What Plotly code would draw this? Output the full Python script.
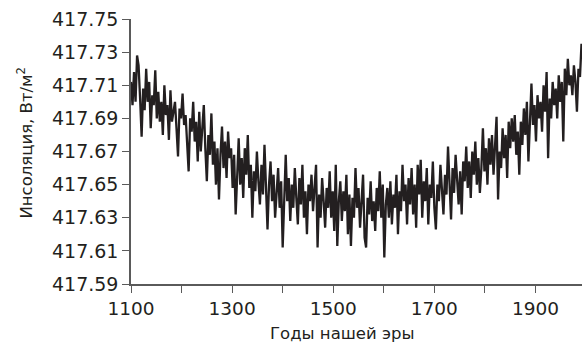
import plotly.graph_objects as go

years = list(range(1100, 1992, 3))

insolation = [
    417.712, 417.698, 417.718, 417.700, 417.728, 417.722, 417.702, 417.679, 417.708, 417.695,
    417.720, 417.700, 417.712, 417.684, 417.704, 417.698, 417.719, 417.690, 417.706, 417.688,
    417.700, 417.680, 417.710, 417.692, 417.698, 417.677, 417.707, 417.688, 417.694, 417.700,
    417.684, 417.667, 417.696, 417.690, 417.705, 417.686, 417.692, 417.674, 417.658, 417.690,
    417.682, 417.700, 417.676, 417.688, 417.664, 417.694, 417.670, 417.684, 417.698, 417.672,
    417.652, 417.680, 417.668, 417.693, 417.662, 417.676, 417.650, 417.672, 417.641, 417.668,
    417.685, 417.660, 417.676, 417.654, 417.682, 417.666, 417.672, 417.648, 417.668, 417.632,
    417.660, 417.678, 417.650, 417.666, 417.642, 417.672, 417.656, 417.680, 417.648, 417.662,
    417.630, 417.658, 417.646, 417.670, 417.652, 417.638, 417.662, 417.644, 417.674, 417.640,
    417.623, 417.650, 417.664, 417.640, 417.656, 417.630, 417.648, 417.660, 417.636, 417.652,
    417.612, 417.646, 417.668, 417.640, 417.654, 417.628, 417.650, 417.636, 417.660, 417.642,
    417.626, 417.654, 417.638, 417.662, 417.630, 417.646, 417.620, 417.650, 417.640, 417.656,
    417.634, 417.648, 417.662, 417.612, 417.644, 417.630, 417.654, 417.640, 417.624, 417.648,
    417.636, 417.658, 417.630, 417.646, 417.622, 417.662, 417.613, 417.640, 417.652, 417.628,
    417.646, 417.634, 417.656, 417.620, 417.644, 417.613, 417.642, 417.630, 417.660, 417.636,
    417.648, 417.624, 417.640, 417.656, 417.618, 417.612, 417.642, 417.632, 417.652, 417.628,
    417.640, 417.622, 417.648, 417.634, 417.658, 417.630, 417.650, 417.606, 417.638, 417.648,
    417.630, 417.652, 417.626, 417.644, 417.636, 417.656, 417.620, 417.646, 417.634, 417.662,
    417.640, 417.650, 417.626, 417.654, 417.638, 417.660, 417.632, 417.650, 417.624, 417.662,
    417.644, 417.665, 417.630, 417.652, 417.640, 417.660, 417.626, 417.650, 417.642, 417.664,
    417.636, 417.623, 417.650, 417.640, 417.662, 417.646, 417.632, 417.656, 417.644, 417.673,
    417.650, 417.629, 417.660, 417.645, 417.668, 417.648, 417.638, 417.658, 417.632, 417.664,
    417.652, 417.673, 417.648, 417.664, 417.642, 417.670, 417.656, 417.676, 417.650, 417.666,
    417.645, 417.660, 417.684, 417.658, 417.672, 417.650, 417.678, 417.662, 417.680, 417.656,
    417.672, 417.691, 417.641, 417.670, 417.660, 417.684, 417.666, 417.680, 417.654, 417.688,
    417.672, 417.690, 417.676, 417.692, 417.668, 417.682, 417.656, 417.688, 417.674, 417.696,
    417.680, 417.700, 417.664, 417.692, 417.711, 417.686, 417.698, 417.676, 417.704, 417.690,
    417.700, 417.682, 417.710, 417.694, 417.718, 417.666, 417.702, 417.690, 417.712, 417.698,
    417.708, 417.690, 417.716, 417.700, 417.712, 417.676, 417.720, 417.704, 417.726, 417.710,
    417.716, 417.704, 417.722, 417.712, 417.694, 417.720, 417.715, 417.735,
]

x_ticks = [1100, 1300, 1500, 1700, 1900]
y_ticks = [417.59, 417.61, 417.63, 417.65, 417.67, 417.69, 417.71, 417.73, 417.75]
y_tick_text = ["417.59", "417.61", "417.63", "417.65", "417.67", "417.69", "417.71", "417.73", "417.75"]
x_title = "Годы нашей эры"
y_title = "Инсоляция, Вт/м<sup>2</sup>"

fig = go.Figure(
    go.Scatter(
        x=years,
        y=insolation,
        mode="lines",
        line=dict(color="#231f20", width=2.3),
        hoverinfo="skip",
    )
)

font_family = "DejaVu Sans, Verdana, sans-serif"
axis_grey = "#5a5a5a"

fig.update_layout(
    width=582,
    height=348,
    margin=dict(l=131, r=0, t=19, b=64),
    paper_bgcolor="white",
    plot_bgcolor="white",
    showlegend=False,
    font=dict(family=font_family, size=19, color="#231f20"),
    xaxis=dict(
        range=[1100, 1992],
        tickmode="array",
        tickvals=x_ticks,
        ticktext=[str(v) for v in x_ticks],
        ticks="outside",
        ticklen=7,
        tickwidth=1.2,
        tickcolor=axis_grey,
        minor=dict(dtick=100, tick0=1100, ticks="outside", ticklen=7, tickwidth=1.2, tickcolor=axis_grey),
        showline=True,
        linecolor=axis_grey,
        linewidth=1.5,
        showgrid=False,
        zeroline=False,
        tickfont=dict(size=18.5),
    ),
    yaxis=dict(
        range=[417.59, 417.75],
        tickmode="array",
        tickvals=y_ticks,
        ticktext=y_tick_text,
        ticks="outside",
        ticklen=7,
        tickwidth=1.2,
        tickcolor=axis_grey,
        showline=True,
        linecolor=axis_grey,
        linewidth=1.5,
        showgrid=False,
        zeroline=False,
        tickfont=dict(size=19),
    ),
    annotations=[
        dict(
            text=x_title, xref="paper", yref="paper",
            x=0.468, y=-0.185, xanchor="center", yanchor="middle",
            showarrow=False, font=dict(size=16.5),
        ),
        dict(
            text=y_title, xref="paper", yref="paper",
            x=-0.235, y=0.53, xanchor="center", yanchor="middle",
            textangle=-90, showarrow=False, font=dict(size=16.5),
        ),
    ],
)

fig.write_html("out.html")
